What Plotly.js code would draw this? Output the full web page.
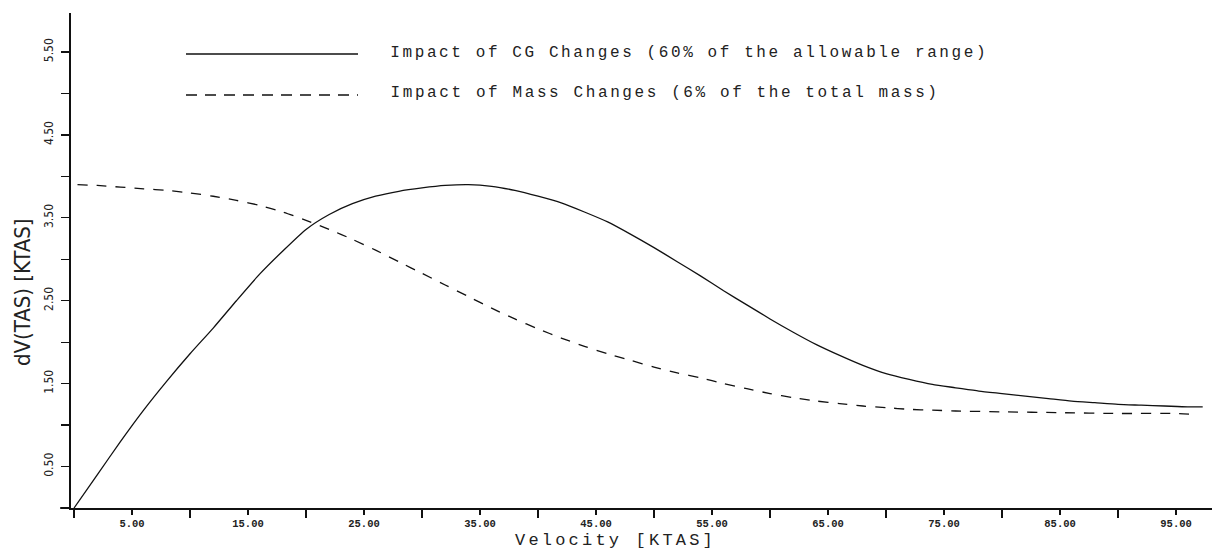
<!DOCTYPE html>
<html>
<head>
<meta charset="utf-8">
<script src="https://cdn.plot.ly/plotly-3.0.1.min.js"></script>
<style>
html,body{margin:0;padding:0;background:#fff;}
#chart{width:1230px;height:550px;}
g.annotation[data-index="0"] text.annotation-text,
g.annotation[data-index="1"] text.annotation-text{letter-spacing:2.6px;}
g.annotation[data-index="2"] text.annotation-text{letter-spacing:3.2px;}
</style>
</head>
<body>
<div id="chart"></div>
<script>
// ---- data ----
const velocityCG = [0,2,4,6,8,10,12,14,16,18,20,22,24,26,28,30,32,34,36,38,40,42,44,46,48,50,52,54,56,58,60,62,64,66,68,70,72,74,76,78,80,82,84,86,88,90,92,94,96,97.3];
const dvCG = [0,0.40,0.80,1.18,1.53,1.86,2.17,2.50,2.82,3.10,3.36,3.54,3.67,3.76,3.82,3.86,3.89,3.90,3.88,3.83,3.76,3.68,3.57,3.45,3.30,3.14,2.97,2.80,2.62,2.45,2.28,2.12,1.97,1.84,1.72,1.62,1.55,1.49,1.45,1.41,1.38,1.35,1.32,1.29,1.27,1.25,1.24,1.23,1.22,1.22];

const velocityMass = [0.3,2,4,6,8,10,12,14,16,18,20,22,24,26,28,30,32,34,36,38,40,42,44,46,48,50,52,54,56,58,60,62,64,66,68,70,72,74,76,80,85,90,95,96.6];
const dvMass = [3.90,3.89,3.87,3.85,3.83,3.80,3.76,3.71,3.65,3.57,3.47,3.36,3.24,3.11,2.97,2.83,2.69,2.55,2.41,2.28,2.16,2.05,1.95,1.86,1.78,1.70,1.63,1.57,1.50,1.44,1.38,1.33,1.29,1.26,1.23,1.21,1.19,1.18,1.17,1.16,1.15,1.14,1.14,1.13];

const xTickVals = [5,15,25,35,45,55,65,75,85,95];
const xTickText = ["5.00","15.00","25.00","35.00","45.00","55.00","65.00","75.00","85.00","95.00"];
const yTickVals = [0.5,1.5,2.5,3.5,4.5,5.5];
const yTickText = ["0.50","1.50","2.50","3.50","4.50","5.50"];

const nameCG = "Impact of CG Changes (60% of the allowable range)";
const nameMass = "Impact of Mass Changes (6% of the total mass)";
const xTitle = "Velocity [KTAS]";
const yTitle = "dV(TAS) [KTAS]";

const ink = "#111111";

const traces = [
  {x: velocityCG, y: dvCG, type: "scatter", mode: "lines", name: nameCG,
   line: {color: ink, width: 1.3, shape: "spline", smoothing: 0.6}, showlegend: false},
  {x: velocityMass, y: dvMass, type: "scatter", mode: "lines", name: nameMass,
   line: {color: ink, width: 1.3, dash: "10px,9px", shape: "spline", smoothing: 0.6}, showlegend: false}
];

const monoFont = "Liberation Mono, DejaVu Sans Mono, monospace";
const narrowFont = "Liberation Sans Narrow, DejaVu Sans Condensed, Liberation Sans, sans-serif";

// plot area: left 71, width 1141, bottom 508, height 495
const layout = {
  width: 1230, height: 550,
  margin: {l: 71, r: 18, t: 13, b: 42},
  paper_bgcolor: "#ffffff", plot_bgcolor: "#ffffff",
  showlegend: false,
  xaxis: {
    range: [-0.26, 98.1], showgrid: false, zeroline: false,
    showline: true, linecolor: ink, linewidth: 1.6,
    tickmode: "array", tickvals: xTickVals, ticktext: xTickText,
    ticks: "outside", ticklen: 5, tickwidth: 1.3, tickcolor: ink,
    minor: {tick0: 0, dtick: 10, ticks: "outside", ticklen: 8, tickwidth: 1.3, tickcolor: ink},
    tickfont: {family: monoFont, size: 10.5, color: "#222", weight: "bold"},
    ticklabelstandoff: 0
  },
  yaxis: {
    range: [0, 5.97], showgrid: false, zeroline: false,
    showline: true, linecolor: ink, linewidth: 1.6,
    tickmode: "array", tickvals: yTickVals, ticktext: yTickText,
    ticks: "outside", ticklen: 8, tickwidth: 1.3, tickcolor: ink,
    minor: {tick0: 0, dtick: 1, ticks: "outside", ticklen: 8, tickwidth: 1.3, tickcolor: ink},
    tickangle: -90,
    tickfont: {family: narrowFont, size: 12, color: "#222"},
    ticklabelstandoff: 4
  },
  shapes: [
    {type: "line", xref: "paper", yref: "paper", x0: (186-71)/1141, x1: (358-71)/1141,
     y0: (508-54)/495, y1: (508-54)/495, line: {color: ink, width: 1.3}},
    {type: "line", xref: "paper", yref: "paper", x0: (186-71)/1141, x1: (358-71)/1141,
     y0: (508-95)/495, y1: (508-95)/495, line: {color: ink, width: 1.3, dash: "11px,8px"}},
    {type: "line", xref: "paper", yref: "paper", x0: (60-71)/1141, x1: 0,
     y0: 0, y1: 0, line: {color: ink, width: 1.6}}
  ],
  annotations: [
    {text: nameCG, xref: "paper", yref: "paper", x: (689-71)/1141, y: (508-53)/495,
     xanchor: "center", yanchor: "middle", showarrow: false,
     font: {family: monoFont, size: 16, color: "#222"}},
    {text: nameMass, xref: "paper", yref: "paper", x: (665-71)/1141, y: (508-93)/495,
     xanchor: "center", yanchor: "middle", showarrow: false,
     font: {family: monoFont, size: 16, color: "#222"}},
    {text: xTitle, xref: "paper", yref: "paper", x: (615-71)/1141, y: -(540-508)/495,
     xanchor: "center", yanchor: "middle", showarrow: false,
     font: {family: monoFont, size: 17, color: "#222"}},
    {text: yTitle, xref: "paper", yref: "paper", x: -(71-22)/1141, y: (508-292)/495,
     xanchor: "center", yanchor: "middle", showarrow: false, textangle: -90,
     font: {family: narrowFont, size: 22, color: "#222"}}
  ]
};

Plotly.newPlot("chart", traces, layout, {staticPlot: true, displayModeBar: false});
</script>
</body>
</html>
